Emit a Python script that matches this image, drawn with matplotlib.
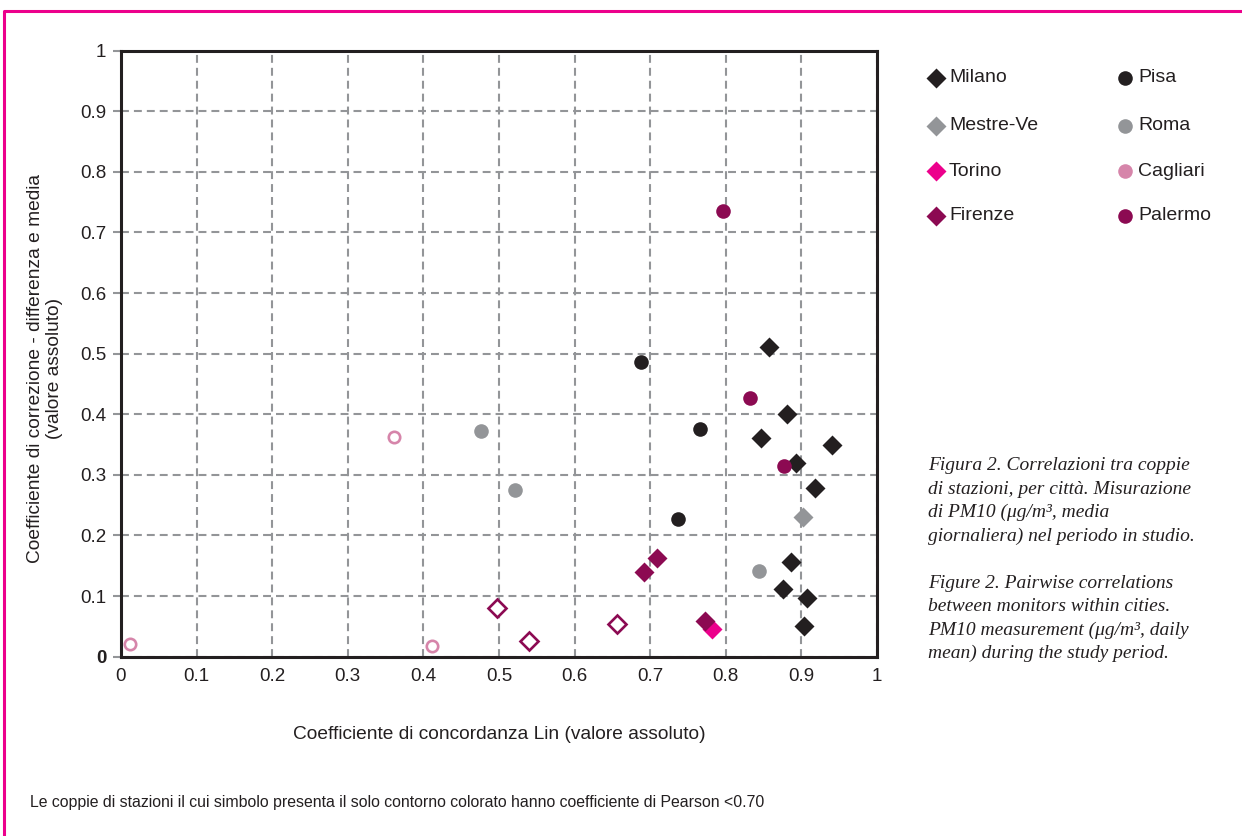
import matplotlib.pyplot as plt
from matplotlib.lines import Line2D

# Lin concordance (x) vs correction coefficient (y), pairs of stations per city
milano_x = [0.857, 0.881, 0.847, 0.940, 0.893, 0.918, 0.886, 0.876, 0.907, 0.903]
milano_y = [0.511, 0.400, 0.361, 0.349, 0.320, 0.278, 0.157, 0.112, 0.097, 0.051]

mestre_x = [0.902]
mestre_y = [0.231]

torino_x = [0.782]
torino_y = [0.046]

firenze_x = [0.709, 0.692, 0.772, 0.656, 0.497, 0.540]
firenze_y = [0.163, 0.140, 0.059, 0.054, 0.081, 0.026]
firenze_open = [False, False, False, True, True, True]

pisa_x = [0.688, 0.766, 0.737]
pisa_y = [0.486, 0.376, 0.227]

roma_x = [0.844, 0.476, 0.521]
roma_y = [0.142, 0.372, 0.275]

cagliari_x = [0.361, 0.411, 0.012]
cagliari_y = [0.362, 0.018, 0.021]
cagliari_open = [True, True, True]

palermo_x = [0.796, 0.832, 0.877]
palermo_y = [0.736, 0.427, 0.315]

caption_lines = [
    'Figura 2. Correlazioni tra coppie',
    'di stazioni, per città. Misurazione',
    'di PM10 (μg/m³, media',
    'giornaliera) nel periodo in studio.',
    '',
    'Figure 2. Pairwise correlations',
    'between monitors within cities.',
    'PM10 measurement (μg/m³, daily',
    'mean) during the study period.',
]

BLACK = '#231f20'
GREY = '#939598'
PINK = '#ec008c'
LIGHTPINK = '#d685aa'
PLUM = '#8c0a52'

cities = [
    ('Milano', milano_x, milano_y, None, 'D', BLACK),
    ('Mestre-Ve', mestre_x, mestre_y, None, 'D', GREY),
    ('Torino', torino_x, torino_y, None, 'D', PINK),
    ('Firenze', firenze_x, firenze_y, firenze_open, 'D', PLUM),
    ('Pisa', pisa_x, pisa_y, None, 'o', BLACK),
    ('Roma', roma_x, roma_y, None, 'o', GREY),
    ('Cagliari', cagliari_x, cagliari_y, cagliari_open, 'o', LIGHTPINK),
    ('Palermo', palermo_x, palermo_y, None, 'o', PLUM),
]

plt.rcParams['font.family'] = ['Liberation Sans', 'DejaVu Sans']

fig = plt.figure(figsize=(12.42, 8.36), dpi=100)
ax = fig.add_axes([0.0974, 0.2145, 0.6087, 0.7249])

for name, xs, ys, hollow, marker, color in cities:
    if hollow is None:
        hollow = [False] * len(xs)
    for x, y, h in zip(xs, ys, hollow):
        if h:
            size = 8.8 if marker == 'D' else 8.2
            ax.plot(x, y, marker=marker, ms=size, mfc='white', mec=color,
                    mew=1.9, ls='none', zorder=3)
        else:
            size = 10.6 if marker == 'D' else 10.5
            ax.plot(x, y, marker=marker, ms=size, mfc=color, mec='none',
                    ls='none', zorder=3)

ax.set_xlim(0, 1)
ax.set_ylim(0, 1)
ticks = [i / 10 for i in range(11)]
tick_labels = ['0', '0.1', '0.2', '0.3', '0.4', '0.5', '0.6', '0.7', '0.8', '0.9', '1']
ax.set_xticks(ticks)
ax.set_xticklabels(tick_labels)
ax.set_yticks(ticks)
ax.set_yticklabels(tick_labels)
ax.get_yticklabels()[0].set_fontweight('bold')

ax.tick_params(axis='x', length=0, pad=8, labelsize=13.5, labelcolor=BLACK)
ax.tick_params(axis='y', length=5.5, width=1.5, color=GREY, pad=5,
               labelsize=13.5, labelcolor=BLACK)

ax.grid(True, color=GREY, lw=1.5, linestyle=(0, (3.8, 2.4)), zorder=1)
ax.set_axisbelow(True)
for sp in ax.spines.values():
    sp.set_color(BLACK)
    sp.set_linewidth(2.2)
    sp.set_zorder(4)

ax.set_xlabel('Coefficiente di concordanza Lin (valore assoluto)',
              fontsize=13.8, color=BLACK, va='top')
ax.xaxis.set_label_coords(0.5, -0.115)
ax.set_ylabel('Coefficiente di correzione - differenza e media\n(valore assoluto)',
              fontsize=13.8, color=BLACK, linespacing=1.12, ha='center')
ax.yaxis.set_label_coords(-0.077, 0.475)

# legend drawn by hand, two columns of four
W, H = 1242, 836
col_x = [936, 1125]
row_y = [78, 126, 171, 216]
for i, (name, xs, ys, hollow, marker, color) in enumerate(cities):
    px = col_x[i // 4]
    py = row_y[i % 4]
    ms = 10.6 if marker == 'D' else 10.5
    fig.add_artist(Line2D([px / W], [1 - py / H], transform=fig.transFigure,
                          marker=marker, ms=ms, mfc=color, mec='none', ls='none'))
    fig.text((px + 13) / W, 1 - py / H, name, fontsize=14, color=BLACK,
             va='center', ha='left')

# italic caption, one line at a time so the spacing stays even
for i, line in enumerate(caption_lines):
    fig.text(928 / W, 1 - (470 + 23.5 * i) / H, line, fontsize=14,
             style='italic', family=['Liberation Serif', 'DejaVu Serif'],
             color=BLACK, va='baseline', ha='left')

fig.text(30 / W, 1 - 803 / H,
         'Le coppie di stazioni il cui simbolo presenta il solo contorno colorato '
         'hanno coefficiente di Pearson <0.70',
         fontsize=11.4, color=BLACK, va='center', ha='left')

# magenta frame along the top and left edges
fig.add_artist(Line2D([4 / W, 4 / W, 1], [0, 1 - 10.5 / H, 1 - 10.5 / H],
                      transform=fig.transFigure, color=PINK, lw=2.2))

fig.savefig('out.png', dpi=100, facecolor='white')
